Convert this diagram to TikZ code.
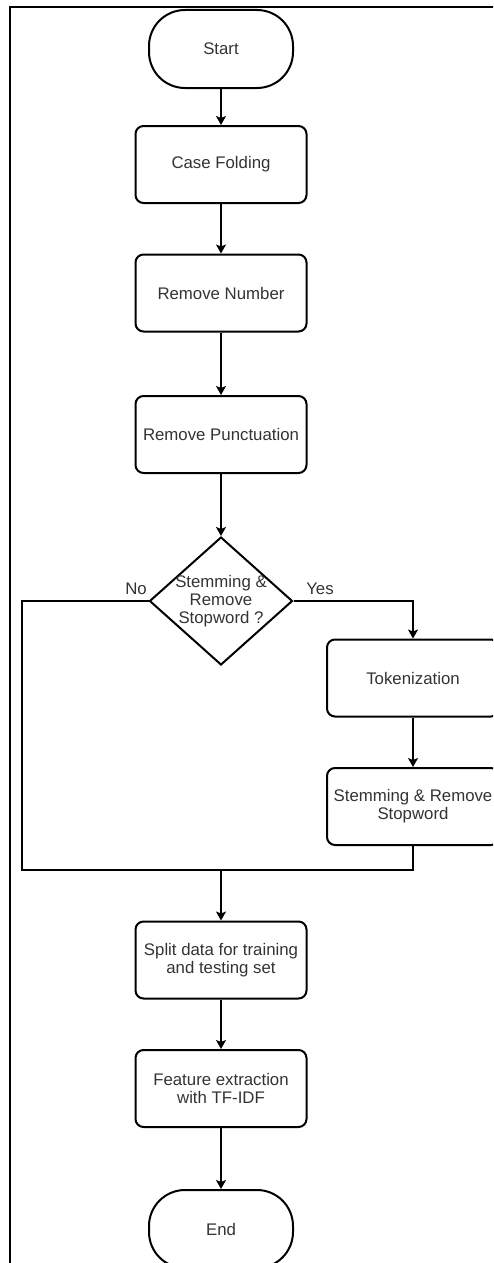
\documentclass[tikz,border=0pt]{standalone}
\usepackage{fontspec}
\setmainfont{Liberation Sans}
\usetikzlibrary{arrows.meta,shapes.geometric}
\begin{document}
\begin{tikzpicture}[x=1pt,y=-1pt,
  every node/.style={font=\fontsize{16.8}{18}\selectfont, text=black!80, align=center},
  proc/.style={draw=black, line width=2pt, rounded corners=8pt, minimum width=171pt, minimum height=77pt, inner sep=0pt},
  term/.style={draw=black, line width=2pt, rounded corners=36pt, minimum width=144pt, minimum height=78pt, inner sep=0pt},
  dec/.style={draw=black, line width=2pt, diamond, minimum width=143pt, minimum height=128pt, inner sep=0pt},
  conn/.style={draw=black, line width=1.3pt},
  arr/.style={conn, -{Stealth[length=9pt,width=10pt,inset=2pt]}},
  lbl/.style={inner sep=0pt}
]
\path[use as bounding box, clip] (0,0) rectangle (493,1263);
\draw[line width=2.2pt, black] (10,7) rectangle (700,1400);

\node[term] (start) at (221,49) {Start};
\node[proc] (case) at (221,164.5) {Case Folding};
\node[proc] (rnum) at (221,293) {Remove Number};
\node[proc] (rpun) at (221,434.5) {Remove Punctuation};
\node[dec] (dec) at (221,601) {};
\node[lbl] (dectext) at (221,601) {Stemming \&\\Remove\\Stopword ?};
\node[proc, minimum width=172pt] (tok) at (413,678) {Tokenization};
\node[proc, minimum width=172pt] (stem) at (413,806.5) {Stemming \& Remove\\Stopword};
\node[proc] (split) at (221,960) {Split data for training\\and testing set};
\node[proc] (feat) at (221,1088.5) {Feature extraction\\with TF-IDF};
\node[term] (end) at (221,1229) {End};

\node[lbl] (nolbl) at (136,589) {No};
\node[lbl] (yeslbl) at (320,589) {Yes};

\coordinate (yescorner) at (413,601);
\coordinate (stembot) at (413,870);
\coordinate (merge) at (221,870);
\coordinate (noleftbot) at (22,870);
\coordinate (nolefttop) at (22,601);

\draw[arr] (start) -- (case);
\draw[arr] (case) -- (rnum);
\draw[arr] (rnum) -- (rpun);
\draw[arr] (rpun) -- (dec);
\draw[arr] (dec.east) -- (yescorner) -- (tok);
\draw[arr] (tok) -- (stem);
\draw[conn] (stem.south) -- (stembot) -- (noleftbot) -- (nolefttop) -- (dec.west);
\draw[arr] (merge) -- (split);
\draw[arr] (split) -- (feat);
\draw[arr] (feat) -- (end);
\end{tikzpicture}
\end{document}
